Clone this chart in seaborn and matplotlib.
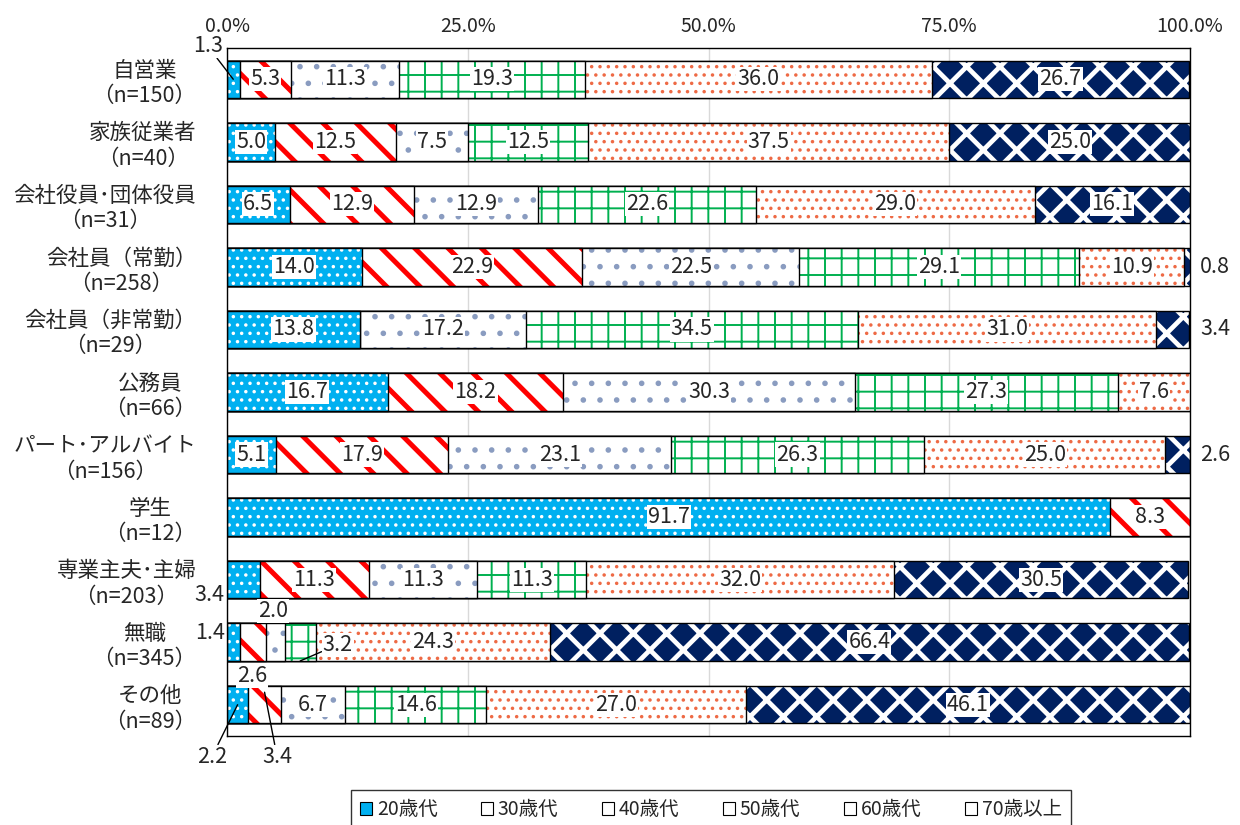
import numpy as np
import pandas as pd
import matplotlib
matplotlib.use('Agg')
import matplotlib.pyplot as plt
import matplotlib.patches as mpatches
import seaborn as sns

# ---------------- data ----------------
categories = ['自営業\n（n=150）', '家族従業者\n（n=40）', '会社役員･団体役員\n（n=31）',
              '会社員（常勤）\n（n=258）', '会社員（非常勤）\n（n=29）', '公務員\n（n=66）',
              'パート･アルバイト\n（n=156）', '学生\n（n=12）', '専業主夫･主婦\n（n=203）',
              '無職\n（n=345）', 'その他\n（n=89）']
series_names = ['20歳代', '30歳代', '40歳代', '50歳代', '60歳代', '70歳以上']
age20 = [1.3, 5.0, 6.5, 14.0, 13.8, 16.7, 5.1, 91.7, 3.4, 1.4, 2.2]
age30 = [5.3, 12.5, 12.9, 22.9, 0.0, 18.2, 17.9, 8.3, 11.3, 2.6, 3.4]
age40 = [11.3, 7.5, 12.9, 22.5, 17.2, 30.3, 23.1, 0.0, 11.3, 2.0, 6.7]
age50 = [19.3, 12.5, 22.6, 29.1, 34.5, 27.3, 26.3, 0.0, 11.3, 3.2, 14.6]
age60 = [36.0, 37.5, 29.0, 10.9, 31.0, 7.6, 25.0, 0.0, 32.0, 24.3, 27.0]
age70 = [26.7, 25.0, 16.1, 0.8, 3.4, 0.0, 2.6, 0.0, 30.5, 66.4, 46.1]
xticks = [0, 25, 50, 75, 100]
xtick_labels = ['0.0%', '25.0%', '50.0%', '75.0%', '100.0%']

series = [age20, age30, age40, age50, age60, age70]

# ---------------- styles ----------------
styles = [
    dict(face='#00B0F0', hcol='white', hatch='..', hlw=1.3),
    dict(face='white', hcol='#FF0000', hatch='\\', hlw=3.6),
    dict(face='white', hcol='#8A9CC0', hatch='.', hlw=1.6),
    dict(face='white', hcol='#00B050', hatch='+', hlw=1.4),
    dict(face='white', hcol='#EE6A45', hatch='..', hlw=1.3),
    dict(face='#002060', hcol='white', hatch='x', hlw=3.4),
]
legend_faces = ['#00B0F0', 'white', 'white', 'white', 'white', 'white']

# label placement for small segments: (mode, dx, dy, leader, target_dy)
special = {
    (0, 0): ('offset', -2.65, -0.53, True, 0.0),
    (3, 5): ('right', 0, 0, False, 0),
    (4, 5): ('right', 0, 0, False, 0),
    (6, 5): ('right', 0, 0, False, 0),
    (8, 0): ('offset', -3.5, 0.24, False, 0),
    (9, 0): ('offset', -2.45, -0.15, False, 0),
    (9, 1): ('offset', -0.1, 0.54, False, 0),
    (9, 2): ('offset', -0.2, -0.50, False, 0),
    (9, 3): ('offset', 3.9, 0.04, True, 0.3),
    (10, 0): ('offset', -2.66, 0.83, True, 0.0),
    (10, 1): ('offset', 1.3, 0.83, True, -0.2),
}

sns.set_style('white')
plt.rcParams['font.family'] = ['Noto Sans CJK JP', 'DejaVu Sans']
plt.rcParams['hatch.linewidth'] = 1.5

cum = np.cumsum(np.array(series), axis=0)
df = pd.DataFrame({'cat': categories})
for k in range(6):
    df[f'c{k}'] = cum[k]

fig = plt.figure(figsize=(12.4, 8.25), dpi=100)
ax = fig.add_axes([227 / 1240, 1 - 736 / 825, (1190 - 227) / 1240, (736 - 48) / 825])

for k in reversed(range(6)):
    st = styles[k]
    n0 = len(ax.patches)
    sns.barplot(data=df, x=f'c{k}', y='cat', orient='y', order=categories, width=0.6,
                color=st['face'], errorbar=None, ax=ax)
    for p in ax.patches[n0:]:
        p.set_facecolor(st['face'])
        p.set_edgecolor(st['hcol'])
        p.set_linewidth(0)
        p.set_hatch(st['hatch'])
        if hasattr(p, 'set_hatch_linewidth'):
            p.set_hatch_linewidth(st['hlw'])
        p.set_zorder(2)
    n1 = len(ax.patches)
    sns.barplot(data=df, x=f'c{k}', y='cat', orient='y', order=categories, width=0.6,
                color='black', errorbar=None, ax=ax)
    for p in ax.patches[n1:]:
        p.set_facecolor('none')
        p.set_edgecolor('black')
        p.set_linewidth(1.0)
        p.set_hatch(None)
        p.set_zorder(2)

ax.set_xlim(0, 100)
ax.set_ylim(len(categories) - 0.5, -0.5)
ax.set_xlabel('')
ax.set_ylabel('')
ax.xaxis.tick_top()
ax.set_xticks(xticks)
ax.set_xticklabels(xtick_labels)
ax.tick_params(axis='x', length=0, pad=8, labelsize=14)
ax.tick_params(axis='y', length=0, pad=22, labelsize=15.5)
for t in ax.get_yticklabels():
    t.set_multialignment('center')
    t.set_linespacing(1.2)
ax.xaxis.grid(True, color='#D9D9D9', lw=1)
ax.set_axisbelow(True)
for s in ax.spines.values():
    s.set_visible(True)
    s.set_color('black')
    s.set_linewidth(1.0)

FS = 15.5
bbox = dict(boxstyle='square,pad=0.05', fc='white', ec='none')
for k in range(6):
    for i in range(len(categories)):
        v = series[k][i]
        if v == 0:
            continue
        cx = cum[k][i] - v / 2
        txt = f'{v:.1f}'
        spec = special.get((i, k))
        if spec is None:
            ax.text(cx, i, txt, ha='center', va='center', fontsize=FS, bbox=bbox, zorder=5)
        elif spec[0] == 'right':
            ax.text(100 + 2.6, i, txt, ha='center', va='center', fontsize=FS, zorder=5, clip_on=False)
        else:
            _, dx, dy, leader, tdy = spec
            if leader:
                ax.annotate(txt, xy=(cx, i + tdy), xytext=(cx + dx, i + dy), ha='center', va='center',
                            fontsize=FS, bbox=bbox, zorder=5, annotation_clip=False,
                            arrowprops=dict(arrowstyle='-', color='black', lw=1.0, shrinkA=0, shrinkB=0))
            else:
                ax.text(cx + dx, i + dy, txt, ha='center', va='center', fontsize=FS, bbox=bbox,
                        zorder=5, clip_on=False)

handles = [mpatches.Patch(facecolor=legend_faces[k], edgecolor='black', linewidth=0.8)
           for k in range(6)]
leg = fig.legend(handles, series_names, loc='upper center', bbox_to_anchor=(711 / 1240, 1 - 780 / 825),
                 ncol=6, frameon=True, fancybox=False, edgecolor='black', fontsize=14,
                 handlelength=0.6, handleheight=0.6, handletextpad=0.25, columnspacing=2.25,
                 borderpad=0.5)
leg.get_frame().set_linewidth(1.0)

fig.savefig('out.png', dpi=100)
